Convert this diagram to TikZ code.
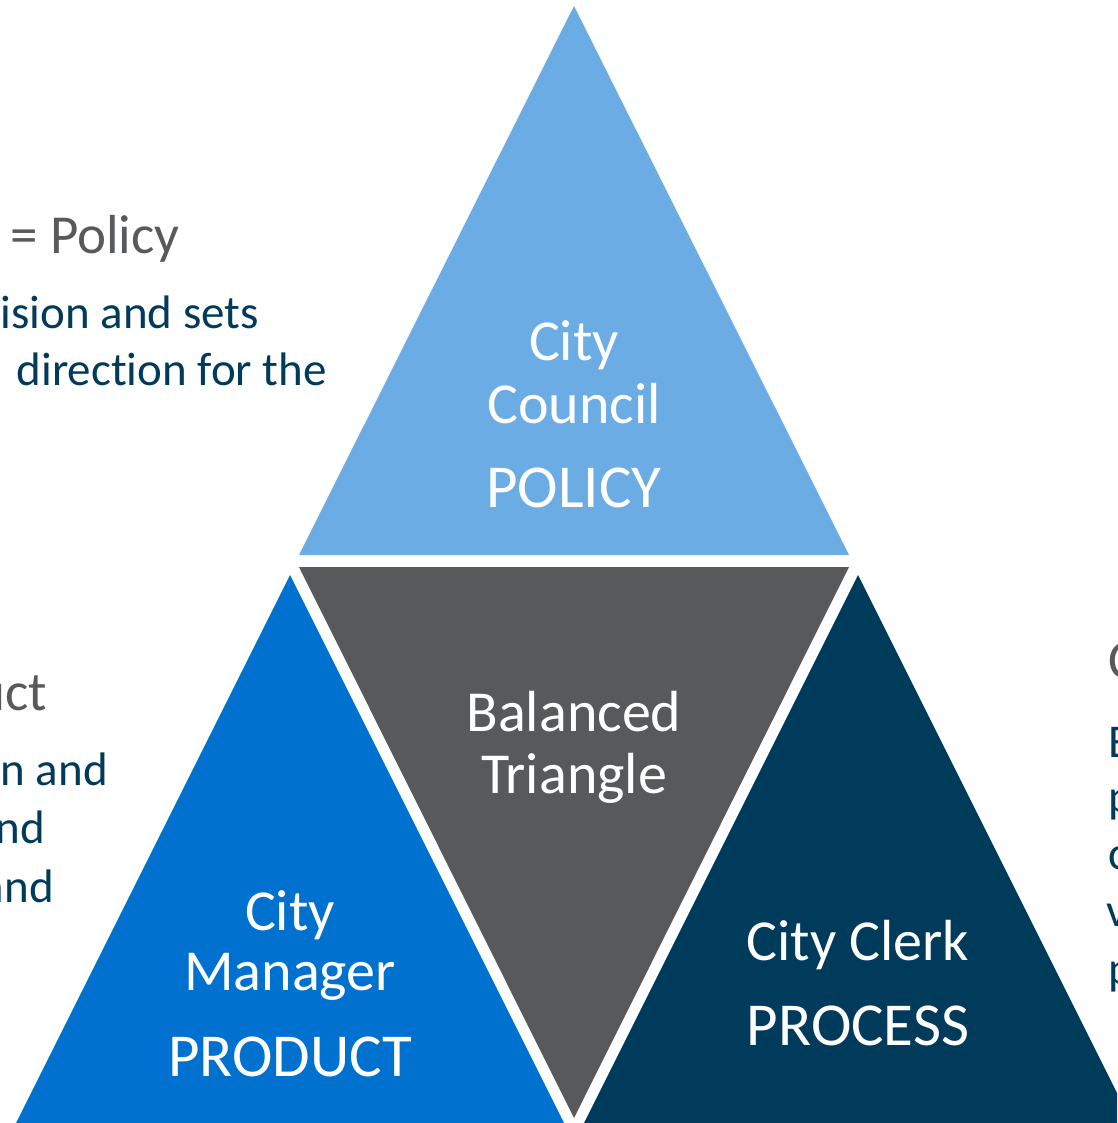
\documentclass[tikz,border=0pt]{standalone}
\usepackage{xcolor}
\usepackage{fontspec}
\setmainfont{Carlito}[RawFeature={-liga;-clig;-calt;-dlig}]
\usepackage{tikz}

\definecolor{policyblue}{HTML}{6AACE3}
\definecolor{balancegray}{HTML}{58595B}
\definecolor{productblue}{HTML}{0071CE}
\definecolor{processnavy}{HTML}{003B5C}
\definecolor{headgray}{HTML}{58595B}

\tikzset{
  headtext/.style={text=headgray, inner sep=0pt, font=\fontsize{55}{66}\selectfont},
  bodytext/.style={text=processnavy, inner sep=0pt, font=\fontsize{47}{57}\selectfont},
  nametext/.style={text=white, inner sep=0pt, font=\fontsize{58}{62}\selectfont, anchor=base},
  roletext/.style={text=white, inner sep=0pt, font=\fontsize{61}{66}\selectfont, anchor=base}
}

\begin{document}
\begin{tikzpicture}[x=1pt, y=-1pt]
        \useasboundingbox (0,0) rectangle (1117,1123);
        \clip (0,0) rectangle (1117,1123);

        % Triangles
        \fill[policyblue] (574,6) -- (849,555) -- (299,555) -- cycle;
        \fill[balancegray] (299,567) -- (849,567) -- (574,1118) -- cycle;
        \fill[productblue] (290,575) -- (565,1125) -- (15,1125) -- cycle;
        \fill[processnavy] (858,575) -- (1133,1125) -- (583,1125) -- cycle;

        % City Council
        \node[nametext] (cityA) at (574,360) {City};
        \node[nametext] (council) at (574,423) {Council};
        \node[roletext] (policy) at (574,507) {POLICY};

        % Balanced Triangle
        \node[nametext] (balanced) at (574,731) {Balanced};
        \node[nametext] (triangle) at (574,793) {Triangle};

        % City Manager
        \node[nametext] (cityB) at (290,930) {City};
        \node[nametext] (manager) at (290,990) {Manager};
        \node[roletext] (product) at (290,1076) {PRODUCT};

        % City Clerk
        \node[nametext] (clerk) at (858,960) {City Clerk};
        \node[roletext] (process) at (858,1045) {PROCESS};

        % Left side text
        \node[headtext, anchor=base west] (policyhead) at (10,253) {= Policy};
        \node[bodytext, anchor=base east] (policyA) at (259,328) {ision and sets};
        \node[bodytext, anchor=base east] (policyB) at (327,385) {direction for the};

        \node[headtext, anchor=base east] (producthead) at (47,710) {uct};
        \node[bodytext, anchor=base east] (productA) at (108,785) {n and};
        \node[bodytext, anchor=base east] (productB) at (45,843) {nd};
        \node[bodytext, anchor=base east] (productC) at (54,902) {and};

        % Right side text
        \node[headtext, anchor=base west] (processhead) at (1108,678) {C};
        \node[bodytext, anchor=base west] (processA) at (1108,757) {E};
        \node[bodytext, anchor=base west] (processB) at (1108,812) {p};
        \node[bodytext, anchor=base west] (processC) at (1108,869) {c};
        \node[bodytext, anchor=base west] (processD) at (1106,926) {v};
        \node[bodytext, anchor=base west] (processE) at (1108,984) {p};
    \end{tikzpicture}
\end{document}
